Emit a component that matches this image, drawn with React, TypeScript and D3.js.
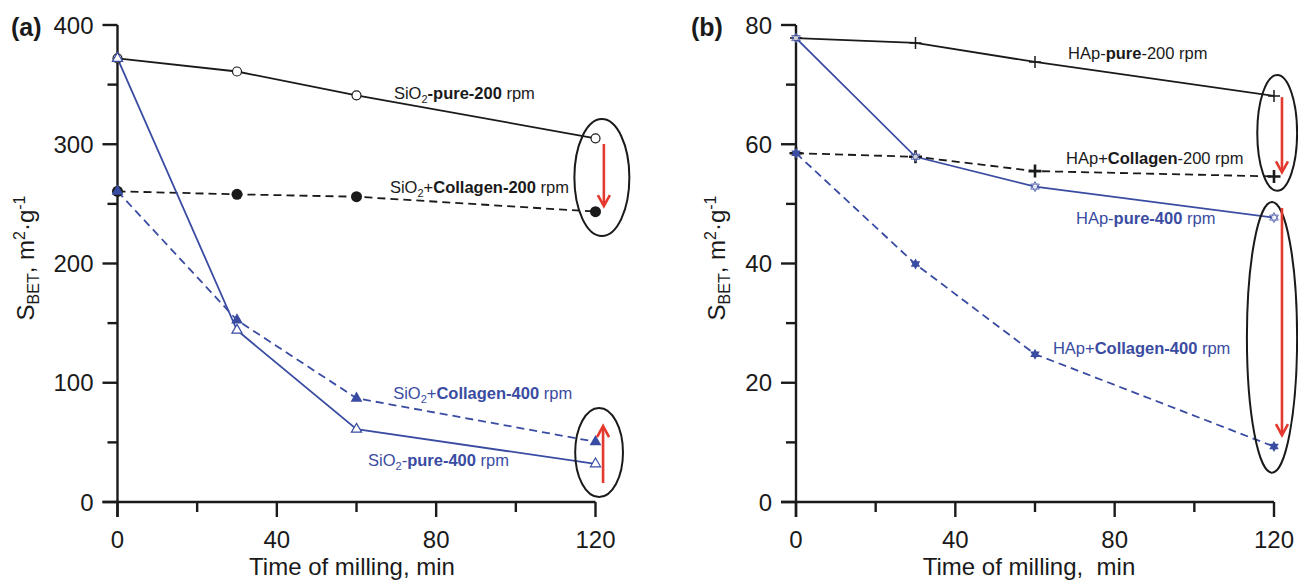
import React from 'react';
import * as d3 from 'd3';

// ---------- data ----------
const times = [0, 30, 60, 120];

// panel (a) SiO2, S_BET m2/g
const sio2Pure200 = [372, 361, 341, 305];
const sio2Col200 = [260.5, 258, 256, 243.5];
const sio2Pure400 = [372, 144, 61, 32];
const sio2Col400 = [260.5, 152.5, 87, 50.5];

// panel (b) HAp, S_BET m2/g
const hapPure200 = [77.8, 77.0, 73.8, 68.1];
const hapCol200 = [58.5, 57.9, 55.5, 54.6];
const hapPure400 = [77.8, 57.9, 52.9, 47.7];
const hapCol400 = [58.5, 39.9, 24.8, 9.3];

const xTicks = [0, 40, 80, 120];
const xMinor = [20, 60, 100];
const yTicksA = [0, 100, 200, 300, 400];
const yMinorA = [50, 150, 250, 350];
const yTicksB = [0, 20, 40, 60, 80];
const yMinorB = [10, 30, 50, 70];

const BLACK = '#1a1a1a';
const BLUE = '#3a4ca2';
const RED = '#e4392f';
const FONT = '"Liberation Sans", Arial, Helvetica, sans-serif';

type Seg = { t: string; b?: boolean; sub?: boolean };
type Series = { values: number[]; dashed: boolean; color: string; marker: string };
type Label = { t: number; v: number; color: string; segs: Seg[] };
type Ell = { t: number; v: number; rx: number; ry: number };
type Arrow = { t: number; v0: number; v1: number };

const labelsA: Label[] = [
  { t: 69.4, v: 338, color: BLACK, segs: [{ t: 'SiO' }, { t: '2', sub: true }, { t: '-pure-200', b: true }, { t: ' rpm' }] },
  { t: 68.4, v: 259.5, color: BLACK, segs: [{ t: 'SiO' }, { t: '2', sub: true }, { t: '+' }, { t: 'Collagen-200', b: true }, { t: ' rpm' }] },
  { t: 69.2, v: 86.4, color: BLUE, segs: [{ t: 'SiO' }, { t: '2', sub: true }, { t: '+' }, { t: 'Collagen-400', b: true }, { t: ' rpm' }] },
  { t: 62.9, v: 30.2, color: BLUE, segs: [{ t: 'SiO' }, { t: '2', sub: true }, { t: '-' }, { t: 'pure-400', b: true }, { t: ' rpm' }] },
];
const labelsB: Label[] = [
  { t: 68.3, v: 74.3, color: BLACK, segs: [{ t: 'HAp-' }, { t: 'pure', b: true }, { t: '-200 rpm' }] },
  { t: 67.8, v: 56.7, color: BLACK, segs: [{ t: 'HAp+' }, { t: 'Collagen', b: true }, { t: '-200 rpm' }] },
  { t: 70.3, v: 46.6, color: BLUE, segs: [{ t: 'HAp-' }, { t: 'pure-400', b: true }, { t: ' rpm' }] },
  { t: 64.5, v: 24.8, color: BLUE, segs: [{ t: 'HAp+' }, { t: 'Collagen-400', b: true }, { t: ' rpm' }] },
];

const ellipsesA: Ell[] = [
  { t: 121.6, v: 272.1, rx: 6.9, ry: 49 },
  { t: 120.9, v: 41.5, rx: 6.0, ry: 37.3 },
];
const arrowsA: Arrow[] = [
  { t: 122.1, v0: 300.2, v1: 248.2 },
  { t: 121.9, v0: 15.9, v1: 63.7 },
];
const ellipsesB: Ell[] = [
  { t: 120.8, v: 61.9, rx: 5.0, ry: 9.7 },
  { t: 119.5, v: 27.6, rx: 6.3, ry: 22.7 },
];
const arrowsB: Arrow[] = [
  { t: 122.0, v0: 67.9, v1: 55.3 },
  { t: 122.0, v0: 49.3, v1: 11.2 },
];

function hexagram(s: number) {
  const p = (a: number) => `${(s * Math.cos(a)).toFixed(2)},${(s * Math.sin(a)).toFixed(2)}`;
  const t1 = [-90, 30, 150].map((d) => p((d * Math.PI) / 180));
  const t2 = [90, 210, 330].map((d) => p((d * Math.PI) / 180));
  return `M${t1.join('L')}Z M${t2.join('L')}Z`;
}

function Marker({ type, x, y, color }: { type: string; x: number; y: number; color: string }) {
  const tr = `translate(${x},${y})`;
  switch (type) {
    case 'circleOpen':
      return <circle cx={x} cy={y} r={4.5} fill="white" stroke={color} strokeWidth={1.2} />;
    case 'circleFilled':
      return <circle cx={x} cy={y} r={5.5} fill={color} />;
    case 'triOpen':
      return <path transform={tr} d={d3.symbol(d3.symbolTriangle, 45)()!} fill="white" stroke={color} strokeWidth={1.2} />;
    case 'triFilled':
      return <path transform={tr} d={d3.symbol(d3.symbolTriangle, 60)()!} fill={color} />;
    case 'plusThin':
      return <path transform={tr} d="M-6,0H6M0,-6V6" stroke={color} strokeWidth={1.5} />;
    case 'plusBold':
      return <path transform={tr} d="M-6.5,0H6.5M0,-6.5V6.5" stroke={color} strokeWidth={2.6} />;
    case 'starOpen':
      return <path transform={tr} d={hexagram(5)} fill="white" stroke={color} strokeWidth={1} opacity={0.8} />;
    case 'starFilled':
      return <path transform={tr} d={hexagram(5.5)} fill={color} />;
    default:
      return null;
  }
}

function SegText({ x, y, segs, color, size, subSize, subDy }: { x: number; y: number; segs: Seg[]; color: string; size: number; subSize: number; subDy: number }) {
  const out: React.ReactNode[] = [];
  let shifted = 0;
  segs.forEach((s, i) => {
    if (s.sub) {
      out.push(
        <tspan key={i} dy={subDy - shifted} fontSize={subSize}>
          {s.t}
        </tspan>
      );
      shifted = subDy;
    } else {
      out.push(
        <tspan key={i} dy={-shifted} fontWeight={s.b ? 'bold' : 'normal'}>
          {s.t}
        </tspan>
      );
      shifted = 0;
    }
  });
  return (
    <text x={x} y={y} fill={color} fontSize={size} fontFamily={FONT} style={{ whiteSpace: 'pre' }}>
      {out}
    </text>
  );
}

type PanelProps = {
  left: number;
  right: number;
  yMax: number;
  yTicks: number[];
  yMinor: number[];
  series: Series[];
  labels: Label[];
  ellipses: Ell[];
  arrows: Arrow[];
  tag: string;
  tagX: number;
  yTitleX: number;
  xTitle: string;
  xTitleX: number;
};

function Panel(p: PanelProps) {
  const top = 25;
  const bottom = 502;
  const x = d3.scaleLinear().domain([0, 120]).range([p.left, p.right]);
  const y = d3.scaleLinear().domain([0, p.yMax]).range([bottom, top]);
  const line = d3
    .line<number>()
    .x((_, i) => x(times[i]))
    .y((d) => y(d));
  const axisW = 2.4;
  return (
    <g>
      {/* series lines */}
      {p.series.map((s, i) => (
        <path
          key={'l' + i}
          d={line(s.values)!}
          fill="none"
          stroke={s.color}
          strokeWidth={1.8}
          strokeDasharray={s.dashed ? '8,5' : undefined}
        />
      ))}
      {/* axes */}
      <line x1={p.left} x2={p.left} y1={top} y2={bottom + 15} stroke={BLACK} strokeWidth={axisW} />
      <line x1={p.left - 15} x2={p.right} y1={bottom} y2={bottom} stroke={BLACK} strokeWidth={axisW} />
      {p.yTicks.map((t) => (
        <g key={'yt' + t}>
          <line x1={p.left - 15} x2={p.left} y1={y(t)} y2={y(t)} stroke={BLACK} strokeWidth={axisW} />
          <text x={p.left - 24} y={y(t) + 8.5} textAnchor="end" fontSize={24} fontFamily={FONT} fill={BLACK}>
            {t}
          </text>
        </g>
      ))}
      {p.yMinor.map((t) => (
        <line key={'ym' + t} x1={p.left - 10} x2={p.left} y1={y(t)} y2={y(t)} stroke={BLACK} strokeWidth={axisW} />
      ))}
      {xTicks.map((t) => (
        <g key={'xt' + t}>
          <line x1={x(t)} x2={x(t)} y1={bottom} y2={bottom + 15} stroke={BLACK} strokeWidth={axisW} />
          <text x={x(t)} y={548} textAnchor="middle" fontSize={24} fontFamily={FONT} fill={BLACK}>
            {t}
          </text>
        </g>
      ))}
      {xMinor.map((t) => (
        <line key={'xm' + t} x1={x(t)} x2={x(t)} y1={bottom} y2={bottom + 10} stroke={BLACK} strokeWidth={axisW} />
      ))}
      {/* markers */}
      {p.series.map((s, i) =>
        s.values.map((v, j) => <Marker key={'m' + i + '_' + j} type={s.marker} x={x(times[j])} y={y(v)} color={s.color} />)
      )}
      {/* labels */}
      {p.labels.map((l, i) => (
        <SegText key={'lb' + i} x={x(l.t)} y={y(l.v)} segs={l.segs} color={l.color} size={16.5} subSize={11} subDy={4} />
      ))}
      {/* ellipses */}
      {p.ellipses.map((e, i) => (
        <ellipse
          key={'e' + i}
          cx={x(e.t)}
          cy={y(e.v)}
          rx={x(e.rx) - x(0)}
          ry={y(0) - y(e.ry)}
          fill="none"
          stroke={BLACK}
          strokeWidth={2}
        />
      ))}
      {/* arrows */}
      {p.arrows.map((a, i) => {
        const ax = x(a.t);
        const y0 = y(a.v0);
        const y1 = y(a.v1);
        const dir = y1 > y0 ? 1 : -1;
        return (
          <g key={'a' + i}>
            <line x1={ax} x2={ax} y1={y0} y2={y1 - dir * 1} stroke={RED} strokeWidth={2.6} />
            <path
              d={`M${ax - 6},${y1 - dir * 11}L${ax},${y1}L${ax + 6},${y1 - dir * 11}`}
              fill="none"
              stroke={RED}
              strokeWidth={2.6}
            />
          </g>
        );
      })}
      {/* titles */}
      <text x={p.tagX} y={36} fontSize={25} fontWeight="bold" fontFamily={FONT} fill={BLACK}>
        {p.tag}
      </text>
      <text
        transform={`translate(${p.yTitleX},${258}) rotate(-90)`}
        textAnchor="middle"
        fontSize={24}
        fontFamily={FONT}
        fill={BLACK}
      >
        <tspan>S</tspan>
        <tspan fontSize={16} dy={5}>BET</tspan>
        <tspan dy={-5}>, m</tspan>
        <tspan fontSize={16} dy={-9}>2</tspan>
        <tspan dy={9}>·g</tspan>
        <tspan fontSize={16} dy={-9}>-1</tspan>
      </text>
      <text x={p.xTitleX} y={575} textAnchor="middle" fontSize={24} fontFamily={FONT} fill={BLACK} style={{ whiteSpace: 'pre' }}>
        {p.xTitle}
      </text>
    </g>
  );
}

export default function App() {
  const seriesA: Series[] = [
    { values: sio2Pure200, dashed: false, color: BLACK, marker: 'circleOpen' },
    { values: sio2Col200, dashed: true, color: BLACK, marker: 'circleFilled' },
    { values: sio2Pure400, dashed: false, color: BLUE, marker: 'triOpen' },
    { values: sio2Col400, dashed: true, color: BLUE, marker: 'triFilled' },
  ];
  const seriesB: Series[] = [
    { values: hapPure200, dashed: false, color: BLACK, marker: 'plusThin' },
    { values: hapCol200, dashed: true, color: BLACK, marker: 'plusBold' },
    { values: hapPure400, dashed: false, color: BLUE, marker: 'starOpen' },
    { values: hapCol400, dashed: true, color: BLUE, marker: 'starFilled' },
  ];
  return (
    <svg
      width={1298}
      height={580}
      viewBox="0 0 1298 580"
      style={{ position: 'absolute', left: 0, top: 0, background: 'white' }}
    >
      <rect width={1298} height={580} fill="white" />
      <Panel
        left={117.5}
        right={595.5}
        yMax={400}
        yTicks={yTicksA}
        yMinor={yMinorA}
        series={seriesA}
        labels={labelsA}
        ellipses={ellipsesA}
        arrows={arrowsA}
        tag="(a)"
        tagX={11}
        yTitleX={34}
        xTitle="Time of milling, min"
        xTitleX={352}
      />
      <Panel
        left={796}
        right={1274}
        yMax={80}
        yTicks={yTicksB}
        yMinor={yMinorB}
        series={seriesB}
        labels={labelsB}
        ellipses={ellipsesB}
        arrows={arrowsB}
        tag="(b)"
        tagX={691}
        yTitleX={725}
        xTitle="Time of milling,  min"
        xTitleX={1029}
      />
    </svg>
  );
}
